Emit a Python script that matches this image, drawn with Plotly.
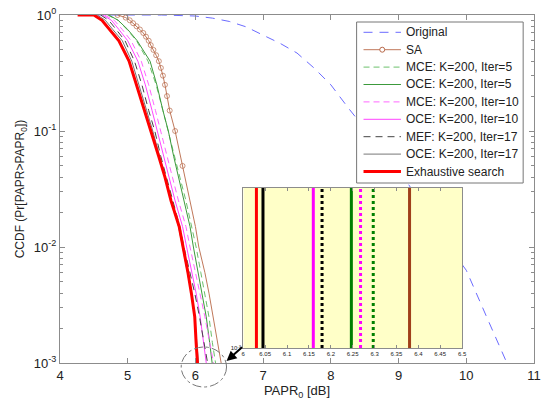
import plotly.graph_objects as go

# ---------------- data ----------------
levels = [1, 0.9, 0.75, 0.6, 0.4, 0.25, 0.15, 0.1, 0.06, 0.04, 0.025, 0.015,
          0.01, 0.006, 0.004, 0.0025, 0.0015, 0.001]

orig_x = [4.5, 5.5, 6.0, 6.25, 6.5, 6.75, 7.0, 7.25, 7.5, 7.75, 8.0, 8.25, 8.5,
          8.75, 9.0, 9.25, 9.5, 9.75, 10.0, 10.3, 10.6]
orig_y = [1, 1, 0.98, 0.94, 0.88, 0.79, 0.67, 0.57, 0.47, 0.35, 0.25, 0.16, 0.105,
          0.07, 0.047, 0.028, 0.016, 0.010, 0.0063, 0.0025, 0.001]

sa_levels = [1.0, 0.95, 0.9, 0.85, 0.8, 0.75, 0.7, 0.65, 0.6, 0.55, 0.5, 0.45, 0.4,
             0.35, 0.3, 0.25, 0.2, 0.15, 0.1, 0.05, 0.025, 0.015, 0.01, 0.006,
             0.004, 0.0025, 0.0015, 0.001]
sa_x = [4.85, 4.97, 5.03, 5.08, 5.13, 5.18, 5.23, 5.27, 5.31, 5.34, 5.38, 5.42, 5.46,
        5.49, 5.52, 5.55, 5.58, 5.62, 5.70, 5.81, 5.93, 6.00, 6.05, 6.14, 6.20,
        6.26, 6.32, 6.38]
sa_marked = 20  # circles drawn on the first points (linear 0.05 steps)

mce5_x = [4.70, 4.86, 4.99, 5.13, 5.30, 5.42, 5.52, 5.60, 5.69, 5.77, 5.86, 5.95,
          6.01, 6.08, 6.14, 6.20, 6.25, 6.297]
oce5_x = [4.72, 4.86, 5.00, 5.14, 5.33, 5.43, 5.52, 5.60, 5.68, 5.75, 5.83, 5.92,
          5.97, 6.04, 6.10, 6.16, 6.21, 6.247]
mce10_x = [4.66, 4.80, 4.92, 5.05, 5.20, 5.31, 5.41, 5.49, 5.58, 5.66, 5.75, 5.86,
           5.92, 6.00, 6.07, 6.14, 6.21, 6.268]
oce10_x = [4.63, 4.76, 4.87, 5.00, 5.15, 5.26, 5.36, 5.44, 5.53, 5.61, 5.70, 5.81,
           5.87, 5.95, 6.01, 6.07, 6.12, 6.16]
mef17_x = [4.60, 4.72, 4.83, 4.96, 5.10, 5.21, 5.31, 5.40, 5.49, 5.57, 5.66, 5.77,
           5.83, 5.92, 5.99, 6.06, 6.13, 6.18]
oce17_x = [4.55, 4.67, 4.78, 4.92, 5.06, 5.17, 5.28, 5.37, 5.47, 5.55, 5.64, 5.75,
           5.81, 5.88, 5.94, 5.99, 6.02, 6.045]
exh_x = [4.26, 4.50, 4.62, 4.73, 4.87, 5.02, 5.13, 5.25, 5.35, 5.46, 5.55, 5.64,
         5.76, 5.82, 5.89, 5.94, 5.99, 6.01, 6.03]
exh_y = [1] + levels

names = ["Original", "SA", "MCE: K=200, Iter=5", "OCE: K=200, Iter=5",
         "MCE: K=200, Iter=10", "OCE: K=200, Iter=10", "MEF: K=200, Iter=17",
         "OCE: K=200, Iter=17", "Exhaustive search"]

xticks_main = [4, 5, 6, 7, 8, 9, 10, 11]
yticks_main = [0.001, 0.01, 0.1, 1]
ytick_text = ["10<sup>-3</sup>", "10<sup>-2</sup>", "10<sup>-1</sup>", "10<sup>0</sup>"]
inset_ticks = [6, 6.05, 6.1, 6.15, 6.2, 6.25, 6.3, 6.35, 6.4, 6.45, 6.5]

# ---------------- styles ----------------
styles = [
    dict(color="#6b6bff", width=1, dash="9px,7px"),
    dict(color="#c0785a", width=1, dash="solid"),
    dict(color="#6cc06c", width=1, dash="6px,4px"),
    dict(color="#3c9a3c", width=1, dash="solid"),
    dict(color="#ff66ff", width=1, dash="6px,4px"),
    dict(color="#ff44ff", width=1, dash="solid"),
    dict(color="#444444", width=1, dash="7px,5px"),
    dict(color="#777777", width=1, dash="solid"),
    dict(color="#ff0000", width=3, dash="solid"),
]
series = [(orig_x, orig_y), (sa_x, sa_levels), (mce5_x, levels), (oce5_x, levels),
          (mce10_x, levels), (oce10_x, levels), (mef17_x, levels), (oce17_x, levels),
          (exh_x, exh_y)]

fig = go.Figure()
for i, ((xs, ys), st) in enumerate(zip(series, styles)):
    if i == 1:
        fig.add_trace(go.Scatter(
            x=xs, y=ys, mode="lines+markers", name=names[i], showlegend=False,
            line=st,
            marker=dict(symbol="circle-open", color="#b8694a",
                        size=[5] * sa_marked + [0] * (len(xs) - sa_marked),
                        line=dict(width=1))))
    else:
        fig.add_trace(go.Scatter(x=xs, y=ys, mode="lines", name=names[i],
                                 showlegend=False, line=st))

# inset: end points at the 1e-3 level
inset_specs = [
    (exh_x[-1], "#ff0000", "solid"),
    (oce17_x[-1], "#000000", "solid"),
    (oce10_x[-1], "#ff00ff", "solid"),
    (mef17_x[-1], "#000000", "dot"),
    (oce5_x[-1], "#008000", "solid"),
    (mce10_x[-1], "#ff00ff", "dot"),
    (mce5_x[-1], "#008000", "dot"),
    (sa_x[-1], "#a0401a", "solid"),
]
for xv, col, dsh in inset_specs:
    fig.add_trace(go.Scatter(x=[xv, xv], y=[0, 1], mode="lines", showlegend=False,
                             xaxis="x2", yaxis="y2", hoverinfo="skip",
                             line=dict(color=col, width=3, dash=dsh)))

axis_col = "#8c8c8c"
L, R, T, B = 60, 3, 15, 40
W, H = 544, 403
pw, ph = W - L - R, H - T - B


def px(xp):
    return (xp - L) / pw


def py(yp):
    return (H - B - yp) / ph


minor_vals = [m * 10 ** e for e in (-3, -2, -1) for m in range(2, 10)]

shapes = [
    dict(type="rect", xref="x2", yref="y2", x0=6, x1=6.5, y0=0, y1=1,
         fillcolor="#ffffc8", line=dict(width=0), layer="below"),
    dict(type="circle", xref="paper", yref="paper", x0=px(183), x1=px(229),
         y0=py(387), y1=py(347), line=dict(color="#777", width=1, dash="dashdot")),
    # legend box
    dict(type="rect", xref="paper", yref="paper", x0=px(361), x1=px(530),
         y0=py(183), y1=py(22), fillcolor="white", line=dict(color="#777", width=1)),
]
annotations = [
    dict(xref="paper", yref="paper", x=px(229), y=py(361), ax=17, ay=-15,
         axref="pixel", ayref="pixel", text="", showarrow=True, arrowhead=2,
         arrowsize=1, arrowwidth=2, arrowcolor="black"),
]
for i, (name, st) in enumerate(zip(names, styles)):
    yc = 32.3 + 17.4 * i
    shapes.append(dict(type="line", xref="paper", yref="paper", x0=px(368), x1=px(406),
                       y0=py(yc), y1=py(yc),
                       line=dict(color=st["color"], width=st["width"], dash=st["dash"])))
    if i == 1:
        shapes.append(dict(type="circle", xref="paper", yref="paper",
                           x0=px(384.5), x1=px(389.5), y0=py(yc + 2.5), y1=py(yc - 2.5),
                           fillcolor="white", line=dict(color="#b8694a", width=1)))
    annotations.append(dict(xref="paper", yref="paper", x=px(409), y=py(yc),
                            xanchor="left", yanchor="middle", showarrow=False,
                            text=name, font=dict(size=12, color="#222")))

fig.update_layout(
    width=W, height=H,
    margin=dict(l=L, r=R, t=T, b=B),
    paper_bgcolor="white", plot_bgcolor="rgba(0,0,0,0)",
    font=dict(family="Liberation Sans, Arial, sans-serif", size=13, color="#222"),
    showlegend=False,
    xaxis=dict(range=[4, 11], tickvals=xticks_main, showgrid=False, zeroline=False,
               showline=True, linecolor=axis_col, mirror="ticks", ticks="inside",
               ticklen=5, tickcolor=axis_col,
               title=dict(text="PAPR<sub>0</sub> [dB]", font=dict(size=13), standoff=4)),
    yaxis=dict(type="log", range=[-3, 0], tickvals=yticks_main, ticktext=ytick_text,
               showgrid=False, zeroline=False, showline=True, linecolor=axis_col,
               mirror="ticks", ticks="inside", ticklen=5, tickcolor=axis_col,
               minor=dict(tickvals=minor_vals, ticks="inside", ticklen=3,
                          tickcolor=axis_col, showgrid=False),
               title=dict(text="CCDF (Pr[PAPR>PAPR<sub>0</sub>])", font=dict(size=12), standoff=6)),
    xaxis2=dict(domain=[px(246), px(468)], anchor="y2", range=[6, 6.5],
                tickvals=inset_ticks, showgrid=False, zeroline=False, showline=True,
                linecolor=axis_col, mirror="ticks", ticks="inside", ticklen=3,
                tickcolor=axis_col, tickfont=dict(size=6)),
    yaxis2=dict(domain=[py(348), py(188)], anchor="x2", range=[0, 1],
                tickvals=[0], ticktext=["10<sup>-3</sup>"], showgrid=False,
                zeroline=False, showline=True, linecolor=axis_col, mirror=True,
                ticks="", tickfont=dict(size=6)),
    shapes=shapes,
    annotations=annotations,
)

fig.write_html("out.html", config={"displayModeBar": False},
               post_script="document.body.style.margin='0';")
